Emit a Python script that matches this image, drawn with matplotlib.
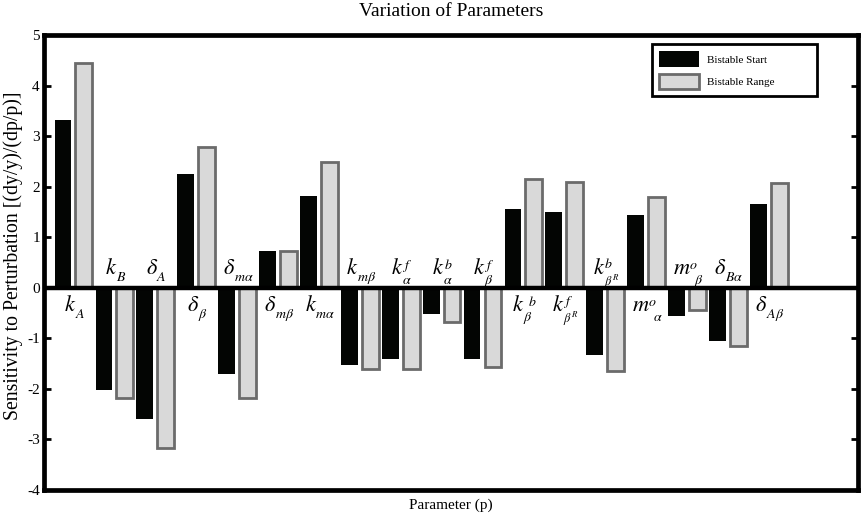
import matplotlib
matplotlib.use("Agg")
import matplotlib.pyplot as plt
from matplotlib.transforms import IdentityTransform
import numpy as np

plt.rcParams['font.family'] = ['Liberation Serif', 'DejaVu Serif']
plt.rcParams['mathtext.fontset'] = 'stix'

# label pieces: base symbol, subscript, superscript
label_base = ['k', 'k', r'\delta', r'\delta', r'\delta', r'\delta', 'k', 'k', 'k',
              'k', 'k', 'k', 'k', 'k', 'm', 'm', r'\delta', r'\delta']
label_sub = ['A', 'B', 'A', r'\beta', r'm\alpha', r'm\beta', r'm\alpha', r'm\beta',
             r'\alpha', r'\alpha', r'\beta', r'\beta', r'\beta^R', r'\beta^R',
             r'\alpha', r'\beta', r'B\alpha', r'A\beta']
label_sup = [None, None, None, None, None, None, None, None, 'f', 'b', 'f', 'b',
             'f', 'b', 'o', 'o', None, None]
bistable_start = [3.32, -2.02, -2.60, 2.26, -1.71, 0.72, 1.81, -1.53, -1.41, -0.52,
                  -1.41, 1.55, 1.49, -1.33, 1.44, -0.56, -1.05, 1.65]
bistable_range = [4.45, -2.18, -3.17, 2.78, -2.18, 0.72, 2.49, -1.61, -1.61, -0.68,
                  -1.57, 2.16, 2.09, -1.64, 1.80, -0.44, -1.16, 2.08]
series_names = ['Bistable Start', 'Bistable Range']
yticks = [-4, -3, -2, -1, 0, 1, 2, 3, 4, 5]

fig = plt.figure(figsize=(8.64, 5.18), dpi=100)
ax = fig.add_axes([44/864, 1-490/518, 814/864, 455/518])

x = np.arange(1, len(label_base) + 1)
w = 0.41
ax.bar(x - 0.255, bistable_start, width=w, color='#030503', edgecolor='none',
       label=series_names[0], zorder=2)
ax.bar(x + 0.255, bistable_range, width=w, color='#d9d9d9', edgecolor='#6b6b6b',
       linewidth=2, label=series_names[1], zorder=2)
ax.axhline(0, color='black', lw=3.2, zorder=3)

ax.set_xlim(0.28, 20.18)
ax.set_ylim(-4, 5)
ax.set_xticks([])
ax.set_yticks(yticks)
ax.set_yticklabels([str(t) for t in yticks], fontsize=11)
ax.tick_params(axis='y', direction='in', length=5, width=2, right=True, pad=3)
for s in ax.spines.values():
    s.set_linewidth(3.4)

leg = ax.legend(loc='upper left', bbox_to_anchor=(0.747, 0.846, 0.2026, 0.134),
                mode='expand', borderaxespad=0, fontsize=8, handlelength=3.6,
                handleheight=1.75, labelspacing=0.65, borderpad=0.65, handletextpad=0.65,
                fancybox=False, framealpha=1)
leg.get_frame().set_edgecolor('black')
leg.get_frame().set_linewidth(2)

fig.text(0.5 * (44 + 858) / 864, 1 - 12/518, 'Variation of Parameters', ha='center',
         va='center', fontsize=14)
fig.text(0.5 * (44 + 858) / 864, 1 - 505/518, 'Parameter (p)', ha='center',
         va='center', fontsize=11)
fig.text(13/864, 1 - 256/518, 'Sensitivity to Perturbation [(dy/y)/(dp/p)]',
         ha='center', va='center', rotation=90, fontsize=14.2)

# parameter labels composed of base symbol + sub/superscripts (pixel offsets)
fig.canvas.draw()
renderer = fig.canvas.get_renderer()
ident = IdentityTransform()
for i, xi in enumerate(x):
    yb = -0.46 if bistable_start[i] >= 0 else 0.27
    gx, gy = ax.transData.transform((xi, yb))
    pieces = []
    base = fig.text(gx, gy, '$' + label_base[i] + '$', transform=ident,
                    ha='left', va='baseline', fontsize=16)
    bb = base.get_window_extent(renderer)
    pieces.append(base)
    right = bb.x1
    sup = label_sup[i]
    sub_x = bb.x1 - 1.5
    sup_x = bb.x1 - 1.0
    drop = 6.5 if sup is None else 9.5
    sup_rise = 5.5
    if i in (12, 13):
        drop = 11.5
        sup_rise = 6.5
    if i in (14, 15):
        sub_x += 5
    if i == 11:
        sup_x += 5
    st = fig.text(sub_x, gy - drop, '$' + label_sub[i] + '$', transform=ident,
                  ha='left', va='baseline', fontsize=10 if i not in (12, 13) else 9)
    pieces.append(st)
    right = max(right, st.get_window_extent(renderer).x1)
    if sup is not None:
        pt = fig.text(sup_x, gy + sup_rise, '$' + sup + '$', transform=ident,
                      ha='left', va='baseline', fontsize=10)
        pieces.append(pt)
        right = max(right, pt.get_window_extent(renderer).x1)
    shift = (right - bb.x0) / 2.0 - 1.0
    for p in pieces:
        px, py = p.get_position()
        p.set_position((px - shift, py))

fig.savefig('out.png', dpi=100)
